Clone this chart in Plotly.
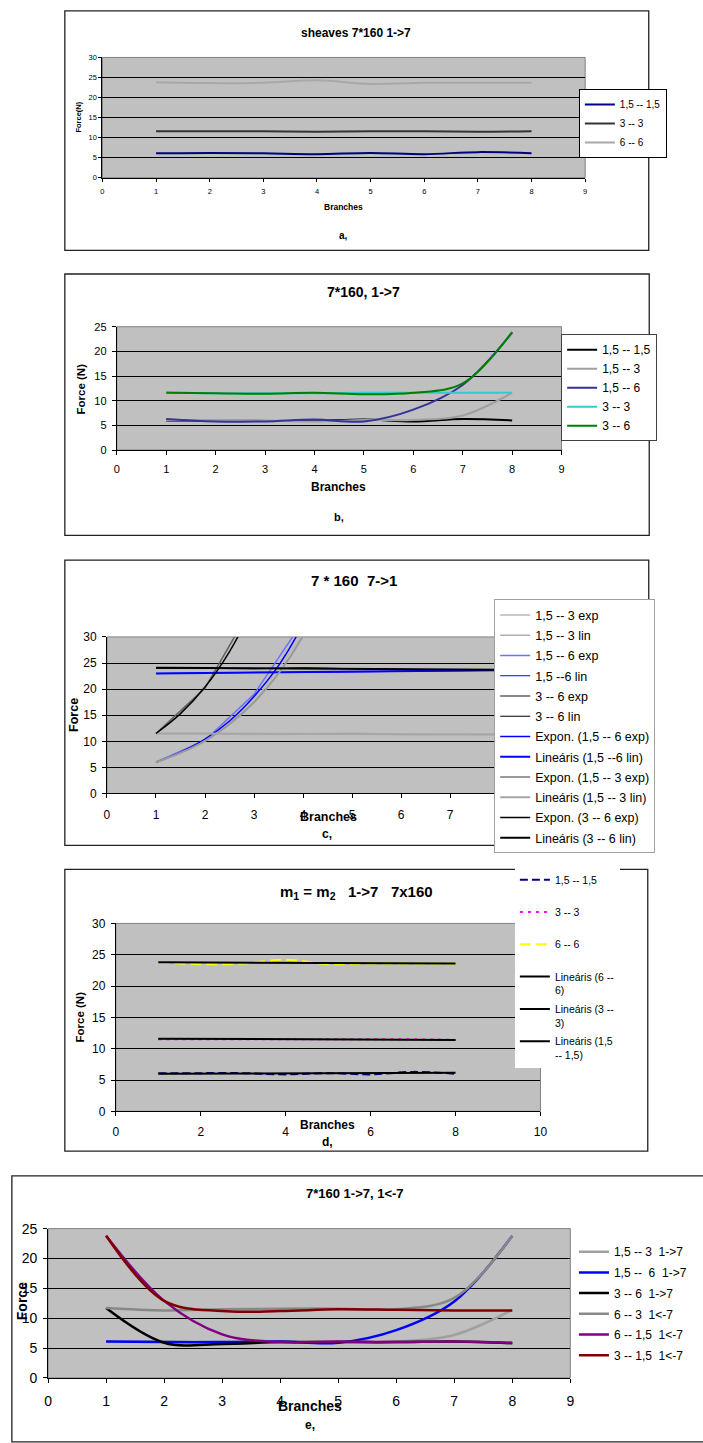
import plotly.graph_objects as go

W, H = 703, 1443
FONT = "Liberation Sans, Arial, Helvetica, sans-serif"


def px(x):
    return x / W


def py(y):
    return 1 - y / H


# ---------------- data ----------------
branches = [1, 2, 3, 4, 5, 6, 7, 8]

# panel a
a_15_15 = [6.1, 6.2, 6.1, 5.9, 6.2, 5.9, 6.4, 6.1]
a_3_3 = [11.6, 11.6, 11.6, 11.5, 11.6, 11.6, 11.5, 11.6]
a_6_6 = [23.8, 23.6, 23.7, 24.3, 23.4, 23.7, 23.7, 23.7]

# panel b
b_15_15 = [6.0, 6.0, 5.9, 5.9, 6.2, 5.8, 6.3, 6.0]
b_15_3 = [6.1, 6.1, 6.0, 5.8, 6.1, 6.1, 7.0, 11.6]
b_15_6 = [6.3, 5.8, 5.8, 6.2, 5.8, 8.2, 13.2, 23.8]
b_3_3 = [11.7, 11.5, 11.5, 11.5, 11.6, 11.6, 11.6, 11.6]
b_3_6 = [11.6, 11.5, 11.4, 11.6, 11.3, 11.6, 13.5, 23.9]

# panel c (measured series)
c_exp_x = [1, 2, 3, 4]
c_15_3_exp = [6.0, 10.0, 17.5, 30.5]
c_15_3_lin = [11.5, 11.5, 11.3, 11.4, 11.6, 11.3, 11.3, 11.3]
c_15_6_exp = [6.0, 10.2, 19.0, 33.0]
c_15_6_lin = [23.0, 23.1, 23.2, 23.2, 23.3, 23.4, 23.5, 23.6]
c_3_6_exp = [11.5, 20.2, 36.5, 65.0]
c_3_6_lin = [24.0, 24.0, 23.9, 24.1, 23.9, 23.8, 23.7, 23.7]
# panel c (trend lines)
c_trend_x = [1, 1.5, 2, 2.5, 3, 3.5, 4, 4.5]
c_expon_15_6 = [6.0, 7.9, 10.4, 13.9, 18.6, 24.5, 32.5, 43.0]
c_expon_15_3 = [6.0, 7.8, 10.1, 13.3, 17.5, 23.0, 30.2, 40.0]
c_expon_3_6 = [11.5, 15.3, 20.4, 27.2, 36.3, 48.0, 64.0, 85.0]
c_lin_x = [1, 8]
c_linear_15_6 = [23.0, 23.6]
c_linear_15_3 = [11.5, 11.3]
c_linear_3_6 = [24.1, 23.7]

# panel d
d_15_15 = [6.1, 6.1, 6.1, 5.9, 6.1, 5.9, 6.3, 6.0]
d_3_3 = [11.5, 11.5, 11.5, 11.5, 11.5, 11.5, 11.5, 11.4]
d_6_6 = [23.8, 23.5, 23.6, 24.2, 23.5, 23.6, 23.6, 23.6]
d_lin_x = [1, 8]
d_lin_6_6 = [23.8, 23.6]
d_lin_3_3 = [11.6, 11.4]
d_lin_15_15 = [6.0, 6.15]

# panel e
e_15_3 = [6.1, 6.1, 6.0, 6.0, 6.0, 6.1, 7.2, 11.4]
e_15_6 = [6.1, 6.0, 6.0, 6.1, 5.9, 8.0, 12.8, 23.8]
e_3_6 = [11.7, 5.9, 5.7, 6.0, 6.0, 6.0, 6.1, 5.8]
e_6_3 = [11.7, 11.3, 11.5, 11.6, 11.6, 11.5, 13.4, 23.8]
e_6_15 = [23.8, 12.9, 7.3, 6.0, 6.1, 6.0, 6.1, 5.9]
e_3_15 = [23.8, 12.9, 11.2, 11.2, 11.5, 11.4, 11.3, 11.3]

fig = go.Figure()
gid = [0]


def add(x, y, name, color, width, n, shape="spline", dash="solid"):
    gid[0] += 1
    sfx = "" if n == 1 else str(n)
    fig.add_trace(go.Scatter(
        x=x, y=y, name=name, mode="lines",
        line=dict(color=color, width=width, shape=shape, dash=dash),
        xaxis="x" + sfx, yaxis="y" + sfx,
        legend="legend" + sfx, legendgroup="g%d" % gid[0],
        hoverinfo="skip",
    ))


# a
add(branches, a_15_15, "1,5 -- 1,5", "#000080", 2, 1)
add(branches, a_3_3, "3 -- 3", "#333333", 2, 1)
add(branches, a_6_6, "6 -- 6", "#a8a8a8", 2, 1)
# b
add(branches, b_15_15, "1,5 -- 1,5", "#000000", 2, 2)
add(branches, b_15_3, "1,5 -- 3", "#a0a0a0", 2, 2)
add(branches, b_15_6, "1,5 -- 6", "#333399", 2, 2)
add(branches, b_3_3, "3 -- 3", "#33cccc", 2, 2)
add(branches, b_3_6, "3 -- 6", "#008000", 2, 2)
# c
add(c_exp_x, c_15_3_exp, "1,5 -- 3 exp", "#b8b8b8", 1.5, 3, shape="linear")
add(branches, c_15_3_lin, "1,5 -- 3 lin", "#b0b0b0", 1.5, 3)
add(c_exp_x, c_15_6_exp, "1,5 -- 6 exp", "#7070ff", 1.5, 3, shape="linear")
add(branches, c_15_6_lin, "1,5 --6 lin", "#0000ff", 1, 3)
add(c_exp_x, c_3_6_exp, "3 -- 6 exp", "#606060", 1.5, 3, shape="linear")
add(branches, c_3_6_lin, "3 -- 6 lin", "#000000", 1, 3)
add(c_trend_x, c_expon_15_6, "Expon. (1,5 -- 6 exp)", "#0000ff", 1.5, 3)
add(c_lin_x, c_linear_15_6, "Lineáris (1,5 --6 lin)", "#0000ff", 2, 3, shape="linear")
add(c_trend_x, c_expon_15_3, "Expon. (1,5 -- 3 exp)", "#999999", 2, 3)
add(c_lin_x, c_linear_15_3, "Lineáris (1,5 -- 3 lin)", "#a6a6a6", 2, 3, shape="linear")
add(c_trend_x, c_expon_3_6, "Expon. (3 -- 6 exp)", "#000000", 1.5, 3)
add(c_lin_x, c_linear_3_6, "Lineáris (3 -- 6 lin)", "#000000", 2, 3, shape="linear")
# d
NB = "<br>\u00a0"
add(branches, d_15_15, "1,5 -- 1,5" + NB, "#000080", 2, 4, dash="8px,4px")
add(branches, d_3_3, "3 -- 3" + NB, "#ff00ff", 2, 4, dash="3px,5px")
add(branches, d_6_6, "6 -- 6" + NB, "#ffff00", 2, 4, dash="11px,5px")
add(d_lin_x, d_lin_6_6, "Lineáris (6 --<br>6)", "#000000", 2, 4, shape="linear")
add(d_lin_x, d_lin_3_3, "Lineáris (3 --<br>3)", "#000000", 2, 4, shape="linear")
add(d_lin_x, d_lin_15_15, "Lineáris (1,5<br>-- 1,5)", "#000000", 2, 4, shape="linear")
# e
add(branches, e_15_3, "1,5 -- 3  1->7", "#a0a0a0", 2.5, 5)
add(branches, e_15_6, "1,5 --  6  1->7", "#0000ff", 2.5, 5)
add(branches, e_3_6, "3 -- 6  1->7", "#000000", 2.5, 5)
add(branches, e_6_3, "6 -- 3  1<-7", "#888888", 2.5, 5)
add(branches, e_6_15, "6 -- 1,5  1<-7", "#800080", 2.5, 5)
add(branches, e_3_15, "3 -- 1,5  1<-7", "#800000", 2.5, 5)

# ---------------- layout ----------------
panels = [
    # n, x0, x1, ytop, ybot, xrange, xdtick, yrange, tickfont, xstand, ystand, ticklen
    (1, 100, 590.4, 50, 171.7, [0, 9], 1, [0, 30], 7.5, 3, 0, 3),
    (2, 114.6, 566.4, 322.3, 447, [0, 9], 1, [0, 25], 11, 5, 3, 4),
    (3, 104.6, 552.8, 636, 794.3, [0, 9], 1, [0, 30], 12, 6, 3, 4),
    (4, 113.6, 545, 925.7, 1115.7, [0, 10], 2, [0, 30], 12, 5, 3, 4),
    (5, 44.8, 575.3, 1234.3, 1385.3, [0, 9], 1, [0, 25], 14, 6, 3, 4),
]

layout = dict(
    width=W, height=H, autosize=False,
    margin=dict(l=0, r=0, t=0, b=0),
    paper_bgcolor="white", plot_bgcolor="#c0c0c0",
    font=dict(family=FONT, color="black"),
)
shapes = []
for n, x0, x1, yt, yb, xr, xd, yr, fs, xs, ys, tl in panels:
    sfx = "" if n == 1 else str(n)
    common = dict(zeroline=False, showline=True, linecolor="black", linewidth=1,
                  ticks="outside", ticklen=tl, tickcolor="black", tickwidth=1,
                  tickfont=dict(size=fs, family=FONT, color="black"), fixedrange=True)
    layout["xaxis" + sfx] = dict(domain=[px(x0), px(x1)], range=xr, tick0=0, dtick=xd,
                                 showgrid=False, anchor="y" + sfx,
                                 ticklabelstandoff=xs, **common)
    layout["yaxis" + sfx] = dict(domain=[py(yb), py(yt)], range=yr, tick0=0, dtick=5,
                                 showgrid=True, gridcolor="black", gridwidth=1,
                                 anchor="x" + sfx, ticklabelstandoff=ys, **common)
    shapes.append(dict(type="rect", xref="x%s domain" % sfx, yref="y%s domain" % sfx,
                       x0=0, x1=1, y0=0, y1=1, line=dict(color="#808080", width=1),
                       layer="below"))

# outer frames
for (bx0, by0, bx1, by1) in [(61.8, 3, 655, 245), (61.8, 269, 655.5, 533.3),
                             (61.8, 558.3, 655, 846.7), (61.8, 871, 654, 1156),
                             (8, 1181, 712, 1450)]:
    shapes.append(dict(type="rect", xref="paper", yref="paper",
                       x0=px(bx0), x1=px(bx1), y0=py(by1), y1=py(by0),
                       line=dict(color="#222222", width=1.3), layer="above"))
layout["shapes"] = shapes


def legend(x, ypos, fs, gap, bcolor=None, valign="middle", yanchor="top"):
    d = dict(x=px(x), y=py(ypos), xanchor="left", yanchor=yanchor, bgcolor="white",
             font=dict(size=fs, family=FONT, color="black"), tracegroupgap=gap,
             traceorder="grouped", itemwidth=30, valign=valign, itemclick=False,
             itemdoubleclick=False)
    if bcolor:
        d.update(bordercolor=bcolor, borderwidth=1)
    else:
        d.update(borderwidth=0)
    return d


layout["legend"] = legend(584, 82, 10, 0, "#000000")
layout["legend2"] = legend(566, 384, 12, 0, "#404040", yanchor="middle")
layout["legend3"] = legend(498, 598, 12.5, 1, "#a0a0a0")
layout["legend4"] = legend(519, 868, 10.5, 2, None, valign="top")
layout["legend5"] = legend(579, 1243, 12, 1.7, None)


def ann(text, x, y, size, angle=0):
    return dict(text=text, x=px(x), y=py(y), xref="paper", yref="paper",
                showarrow=False, xanchor="center", yanchor="middle", textangle=angle,
                font=dict(size=size, family=FONT, color="black"))


S = "\u00a0"
layout["annotations"] = [
    ann("<b>sheaves 7*160 1->7</b>", 358, 25, 12),
    ann("<b>Branches</b>", 345, 201.7, 8.5),
    ann("<b>a,</b>", 345, 230, 10),
    ann("<b>Force(N)</b>", 76, 110, 7.5, -90),

    ann("<b>7*160, 1->7</b>", 365, 287, 14),
    ann("<b>Branches</b>", 340, 484, 12),
    ann("<b>b,</b>", 340, 515, 11),
    ann("<b>Force (N)</b>", 78, 385, 11.5, -90),

    ann("<b>7 * 160" + S * 2 + "7->1</b>", 356, 579, 15),
    ann("<b>Branches</b>", 330, 818, 12.5),
    ann("<b>c,</b>", 328, 835, 12),
    ann("<b>Force</b>", 71, 715, 12.5, -90),

    ann("<b>m<sub>1</sub> = m<sub>2</sub>" + S * 3 + "1->7" + S * 3 + "7x160</b>", 358, 894, 15),
    ann("<b>Branches</b>", 329, 1130, 12),
    ann("<b>d,</b>", 329, 1147, 12),
    ann("<b>Force (N)</b>", 77, 1020, 11.5, -90),

    ann("<b>7*160 1->7, 1<-7</b>", 357, 1199, 13),
    ann("<b>Branches</b>", 311, 1414, 14),
    ann("<b>e,</b>", 311, 1433, 12),
    ann("<b>Force</b>", 19, 1308, 14, -90),
]

fig.update_layout(**layout)
fig.write_html(
    "out.html",
    config={"displayModeBar": False, "staticPlot": True},
    post_script="document.body.style.margin='0';document.body.style.overflow='hidden';",
)
